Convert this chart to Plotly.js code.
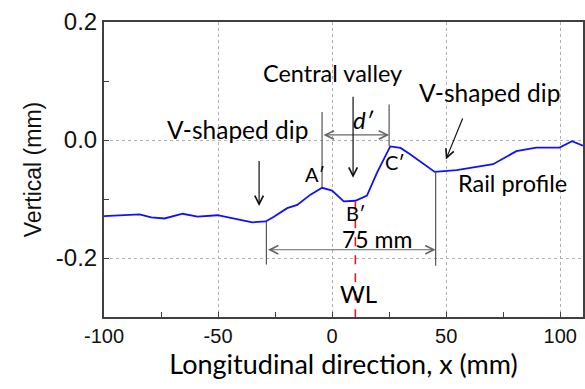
<!DOCTYPE html>
<html><head><meta charset="utf-8">
<script src="https://cdn.plot.ly/plotly-3.0.1.min.js"></script>
<style>html,body{margin:0;padding:0;background:#fff}#c{width:585px;height:389px}</style>
</head><body><div id="c"></div>
<script>
// Rail profile data
var xPos = [-100, -92.4, -84.4, -79.3, -73.5, -65.5, -59, -50.2, -43, -35, -29.1, -25.5, -19.7, -15.3, -9.5, -4.4, 0, 5.1, 10.2, 15.3, 19.7, 25.5, 30, 34.2, 45, 54.6, 70.6, 80.8, 89.5, 99.7, 105.2, 110];
var yVert = [-0.129, -0.1275, -0.126, -0.131, -0.133, -0.125, -0.130, -0.1275, -0.133, -0.1395, -0.138, -0.130, -0.1155, -0.110, -0.0926, -0.081, -0.0858, -0.104, -0.103, -0.0943, -0.0554, -0.0108, -0.0135, -0.024, -0.054, -0.051, -0.041, -0.019, -0.013, -0.013, -0.002, -0.0098];
var xTickVals = [-100, -50, 0, 50, 100];
var xTickText = ['-100', '-50', '0', '50', '100'];
var yTickVals = [-0.2, 0, 0.2];
var yTickText = ['-0.2', '0.0', '0.2'];

// Feature positions (mm)
var xA = -4.4, xC = 25, xLeftDip = -28.8, xRightDip = 45.4, xWL = 10.2;

var tf = 'Lato, "Noto Sans", sans-serif';
var af = 'Liberation Sans, Arial, sans-serif';

var trace = {x: xPos, y: yVert, mode: 'lines', type: 'scatter',
  line: {color: '#1010ff', width: 1.8}, hoverinfo: 'skip'};

function txt(x, y, t, size, extra) {
  var a = {x: x, y: y, xref: 'x', yref: 'y', text: t, showarrow: false,
    font: {family: tf, size: size, color: '#000'}, xanchor: 'center', yanchor: 'middle'};
  if (extra) for (var k in extra) a[k] = extra[k];
  return a;
}
function arr(x, y, ax, ay, color, side) {
  return {x: x, y: y, ax: ax, ay: ay, xref: 'x', yref: 'y', axref: 'x', ayref: 'y',
    text: '', showarrow: true, arrowhead: 5, startarrowhead: 5, arrowside: side || 'end',
    arrowsize: 1.4, startarrowsize: 1.4, arrowwidth: 1.2, arrowcolor: color};
}
function vline(x, y0, y1, color, dash, w) {
  return {type: 'line', xref: 'x', yref: 'y', x0: x, x1: x, y0: y0, y1: y1,
    line: {color: color, width: w || 1.2, dash: dash || 'solid'}};
}

var annotations = [
  txt(0, 0.113, 'Central valley', 23.5),
  txt(-41.5, 0.018, 'V-shaped dip', 24.5),
  txt(69.1, 0.080, 'V-shaped dip', 24.5),
  txt(79.3, -0.073, 'Rail profile', 23.5),
  txt(13.7, 0.035, '<i>d′</i>', 24),
  txt(-7.6, -0.058, 'A′', 20),
  txt(27.4, -0.038, 'C′', 20),
  txt(10.4, -0.124, 'B′', 20),
  txt(19.6, -0.167, '75 mm', 23),
  txt(11.6, -0.261, 'WL', 24),
  arr(xC, 0.0086, xA, 0.0086, '#666', 'end+start'),
  arr(xRightDip, -0.186, xLeftDip, -0.186, '#666', 'end+start'),
  arr(9.2, -0.064, 9.2, 0.076, '#111'),
  arr(-32, -0.112, -32, -0.033, '#111'),
  arr(49.9, -0.033, 57.5, 0.039, '#111')
];

var shapes = [
  vline(xA, 0.0475, -0.08, '#555'),
  vline(xC, 0.06, -0.010, '#555'),
  vline(xLeftDip, -0.138, -0.211, '#555'),
  vline(xRightDip, -0.055, -0.213, '#555'),
  vline(xWL, -0.104, -0.3, '#e8191c', 'dash', 1.6)
];

var layout = {
  width: 585, height: 389,
  margin: {l: 104, r: 2, t: 22, b: 72, pad: 0},
  paper_bgcolor: '#fff', plot_bgcolor: '#fff',
  showlegend: false,
  xaxis: {range: [-100, 110], tickmode: 'array', tickvals: xTickVals, ticktext: xTickText,
    ticks: 'inside', ticklen: 5, tickcolor: '#404040', tickwidth: 1,
    showline: true, linecolor: '#404040', linewidth: 2, mirror: true,
    showgrid: true, gridcolor: '#b0b0b0', griddash: 'dot', gridwidth: 1, zeroline: false,
    minor: {tickvals: [-75, -25, 25, 75], ticks: 'inside', ticklen: 5, tickcolor: '#404040', showgrid: false},
    tickfont: {family: af, size: 20, color: '#111'},
    title: {text: 'Longitudinal direction, x (mm)', font: {family: tf, size: 27, color: '#000'}, standoff: 4}},
  yaxis: {range: [-0.3, 0.2], tickmode: 'array', tickvals: yTickVals, ticktext: yTickText,
    ticks: 'inside', ticklen: 5, tickcolor: '#404040', tickwidth: 1,
    showline: true, linecolor: '#404040', linewidth: 2, mirror: true,
    showgrid: true, gridcolor: '#b0b0b0', griddash: 'dot', gridwidth: 1, zeroline: false,
    minor: {tickvals: [-0.1, 0.1], ticks: 'inside', ticklen: 5, tickcolor: '#404040', showgrid: false},
    tickfont: {family: af, size: 24, color: '#111'},
    title: {text: 'Vertical (mm)', font: {family: af, size: 23, color: '#111'}, standoff: 8}},
  annotations: annotations,
  shapes: shapes
};

Plotly.newPlot('c', [trace], layout, {displayModeBar: false, staticPlot: true});
</script>
</body></html>
